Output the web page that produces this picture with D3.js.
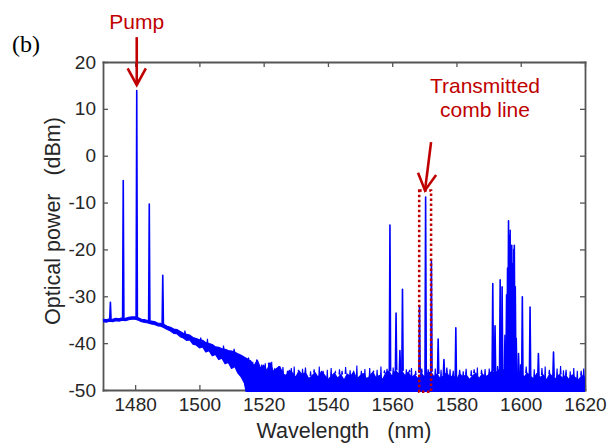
<!DOCTYPE html>
<html>
<head>
<meta charset="utf-8">
<script src="https://cdn.jsdelivr.net/npm/d3@7"></script>
<style>
  body { margin: 0; background: #fff; }
  svg { font-family: Arial, 'Liberation Sans', sans-serif; }
</style>
</head>
<body>
<svg id="chart" width="609" height="444"></svg>
<script>
// DATA
const xTicks = [1480, 1500, 1520, 1540, 1560, 1580, 1600, 1620];
const yTicks = [-50, -40, -30, -20, -10, 0, 10, 20];

// noise floor on a 1 nm grid, 1470..1620 nm
const floorWl = d3.range(1470, 1621);
const floorHi = [
  -34.9, -35.0, -34.8, -34.9, -34.7, -34.8, -34.6, -34.7, -34.5, -34.4,
  -34.4, -34.6, -34.9, -35.0, -35.2, -35.3, -35.4, -35.7, -35.8, -36.0,
  -36.4, -36.6, -37.0, -37.1, -37.5, -37.9, -38.1, -38.3, -38.8, -39.0,
  -39.3, -39.4, -39.9, -40.1, -40.3, -40.8, -40.9, -41.2, -41.3, -41.6,
  -41.7, -41.9, -42.3, -42.6, -43.0, -43.4, -43.8, -44.9, -43.6, -45.3,
  -44.7, -45.9, -44.2, -46.1, -45.4, -45.0, -46.6, -46.9, -45.8, -46.4,
  -47.3, -45.9, -46.8, -46.2, -47.6, -47.0, -46.3, -47.4, -46.0, -46.9,
  -47.8, -47.1, -46.4, -47.5, -46.7, -47.9, -46.6, -47.2, -46.1, -47.7,
  -47.0, -46.5, -47.6, -47.1, -46.2, -47.5, -46.9, -47.8, -46.4, -46.0,
  -47.2, -45.8, -46.6, -45.9, -47.0, -46.2, -47.4, -46.8, -47.6, -46.3,
  -47.3, -46.5, -46.1, -47.2, -46.6, -47.7, -46.9, -46.3, -47.5, -46.8,
  -47.9, -46.5, -47.3, -46.7, -47.8, -47.0, -46.4, -47.6, -46.6, -47.2,
  -46.8, -46.0, -46.5, -45.7, -46.3, -45.4, -45.0, -45.3, -45.9, -46.6,
  -46.1, -47.3, -46.4, -47.0, -47.7, -46.5, -47.4, -46.8, -47.9, -46.6,
  -47.2, -47.6, -46.7, -47.5, -46.9, -47.8, -46.8, -47.4, -47.9, -46.9,
  -47.3
];
// lower edge of the noise band; past 1514 nm it runs off the bottom of the axis
const floorLo = [
  -35.4, -35.5, -35.3, -35.4, -35.2, -35.3, -35.1, -35.2, -35.0, -34.9,
  -34.9, -35.1, -35.4, -35.6, -35.7, -35.9, -36.0, -36.3, -36.4, -36.7,
  -37.1, -37.4, -37.9, -38.0, -38.6, -38.9, -39.4, -39.3, -40.2, -40.4,
  -41.0, -40.8, -41.9, -41.6, -42.7, -42.4, -43.5, -43.2, -44.4, -44.1,
  -45.4, -45.0, -46.4, -47.2, -48.5
];

// comb lines
const peakWl = [
  1472.3, 1476.3, 1480.5, 1484.4, 1488.6,
  1559.3, 1561.2, 1562.4, 1563.2, 1568.5, 1570.4, 1572.2, 1574.3, 1576.1, 1579.8,
  1591.3, 1592.0, 1593.6, 1594.2, 1595.1, 1595.6, 1595.9, 1596.2, 1596.45, 1596.7,
  1596.95, 1597.2, 1597.5, 1597.8, 1598.0, 1598.3, 1598.6, 1599.3, 1600.5, 1602.9,
  1605.5, 1610.2
];
const peakDbm = [
  -31.3, -5.3, 13.9, -10.3, -25.5,
  -14.8, -33.6, -41.6, -28.5, -32.0, -8.8, -22.6, -39.1, -43.5, -36.7,
  -27.3, -36.3, -26.5, -28.0, -38.3, -29.7, -24.0, -13.9, -17.0, -15.9,
  -21.0, -19.1, -23.0, -20.0, -19.1, -28.0, -39.0, -42.2, -30.1, -32.3,
  -42.2, -41.9
];

// small noise spikes sticking out of the floor
const spikeWl = [
  1495.5, 1500.4, 1502.5, 1507.5, 1510.8,
  1515.3, 1516.6, 1517.8, 1519.4, 1520.5, 1521.6, 1522.5, 1523.4, 1524.7, 1526.0,
  1527.4, 1528.6, 1529.5, 1530.8, 1532.1, 1533.0, 1534.6, 1535.7, 1537.3, 1538.5,
  1539.8, 1541.0, 1542.3, 1543.6, 1544.4, 1545.5, 1546.9, 1548.0, 1549.0, 1550.4,
  1551.5, 1553.0, 1554.2, 1555.3, 1556.5, 1557.6, 1558.4, 1560.3, 1564.4, 1565.4,
  1566.0, 1567.3, 1569.2, 1571.2, 1573.4, 1575.2, 1577.0, 1578.0, 1579.0, 1581.0,
  1582.1, 1583.0, 1584.6, 1585.5, 1586.5, 1587.8, 1588.9, 1590.2, 1592.8, 1599.9,
  1601.7, 1604.2, 1606.6, 1607.6, 1608.9, 1611.3, 1612.4, 1613.3, 1614.1, 1615.4,
  1616.5, 1617.6, 1618.8, 1619.6
];
const spikeDbm = [
  -37.3, -38.8, -39.1, -40.5, -41.2,
  -43.2, -44.0, -43.7, -44.6, -44.3, -45.0, -44.0, -45.4, -45.6, -45.1,
  -45.9, -45.3, -45.0, -45.8, -45.5, -45.2, -46.0, -45.6, -45.0, -45.9,
  -45.7, -45.3, -46.1, -45.6, -45.9, -45.1, -45.8, -46.0, -44.8, -45.9,
  -45.5, -45.3, -46.0, -45.7, -45.0, -45.8, -45.5, -45.2, -45.6, -45.7,
  -45.3, -45.9, -45.4, -45.6, -45.4, -45.7, -45.2, -45.6, -45.9, -45.7,
  -46.0, -45.5, -45.8, -45.6, -45.2, -45.7, -45.5, -45.4, -44.9, -44.5,
  -45.0, -45.6, -45.3, -45.0, -45.7, -45.4, -44.9, -45.8, -45.7, -46.0,
  -45.3, -45.9, -45.9, -45.4
];

// annotations, in data units
const pumpArrow = { wl: [1480.5, 1480.5], dbm: [25.3, 15.1] };
const combArrow = { wl: [1572.1, 1570.2], dbm: [2.9, -7.4] };
const combBox = { wl: [1568.4, 1572.1], dbm: [-7.4, -50.4] };

//SETUP
const svg = d3.select('#chart');
const width = +svg.attr('width');
const height = +svg.attr('height');

const padding = { top: 62, right: 24, bottom: 54, left: 103 };
const blue = '#0000ff';
const red = '#c00000';
const axisColor = '#555';
const textColor = '#262626';

//SCALE AND AXIS
const xScale = d3.scaleLinear()
  .domain([1470, 1620])
  .range([padding.left, width - padding.right]);

const yScale = d3.scaleLinear()
  .domain([-50, 20])
  .range([height - padding.bottom, padding.top]);

function styleAxis(g) {
  g.attr('font-family', 'Arial, Liberation Sans, sans-serif').attr('font-size', 19);
  g.select('.domain').attr('stroke', axisColor).attr('stroke-width', 1.8).attr('stroke-linecap', 'square');
  g.selectAll('.tick line').attr('stroke', axisColor).attr('stroke-width', 1.3);
  g.selectAll('.tick text').attr('fill', textColor);
}

const fmt = (d) => String(d);

svg.append('g')
  .attr('transform', `translate(0,${yScale(-50)})`)
  .call(d3.axisBottom(xScale).tickValues(xTicks).tickFormat(fmt)
    .tickSizeInner(-5).tickSizeOuter(0).tickPadding(8))
  .call(styleAxis);

svg.append('g')
  .attr('transform', `translate(0,${yScale(20)})`)
  .call(d3.axisTop(xScale).tickValues(xTicks).tickFormat('')
    .tickSizeInner(-5).tickSizeOuter(0))
  .call(styleAxis);

svg.append('g')
  .attr('transform', `translate(${xScale(1470)},0)`)
  .call(d3.axisLeft(yScale).tickValues(yTicks).tickFormat(fmt)
    .tickSizeInner(-5).tickSizeOuter(0).tickPadding(7))
  .call(styleAxis);

svg.append('g')
  .attr('transform', `translate(${xScale(1620)},0)`)
  .call(d3.axisRight(yScale).tickValues(yTicks).tickFormat('')
    .tickSizeInner(-5).tickSizeOuter(0))
  .call(styleAxis);

//SPECTRUM
svg.append('clipPath').attr('id', 'plot-clip')
  .append('rect')
  .attr('x', xScale(1470))
  .attr('y', yScale(20))
  .attr('width', xScale(1620) - xScale(1470))
  .attr('height', yScale(-50) - yScale(20) + 2);

const plot = svg.append('g').attr('clip-path', 'url(#plot-clip)');

const floorData = floorWl.map((wl, i) => ({
  wl,
  hi: floorHi[i],
  lo: i < floorLo.length ? floorLo[i] : -52,
}));

const band = d3.area()
  .x((d) => xScale(d.wl))
  .y0((d) => yScale(d.lo))
  .y1((d) => yScale(d.hi));

plot.append('path')
  .datum(floorData)
  .attr('d', band)
  .attr('fill', blue)
  .attr('stroke', blue)
  .attr('stroke-width', 1.2)
  .attr('stroke-linejoin', 'round');

function floorAt(wl) {
  return floorHi[Math.round(wl - floorWl[0])];
}

const spikeLine = d3.line()
  .x((d) => xScale(d.wl))
  .y((d) => yScale(d.dbm));

function spikePath(wl, dbm, half) {
  const base = floorAt(wl);
  return spikeLine([
    { wl: wl - half, dbm: base },
    { wl, dbm },
    { wl: wl + half, dbm: base },
  ]);
}

plot.selectAll('.spike')
  .data(spikeWl.map((wl, i) => ({ wl, dbm: spikeDbm[i] })))
  .enter()
  .append('path')
  .classed('spike', true)
  .attr('d', (d) => spikePath(d.wl, d.dbm, 0.15))
  .attr('fill', blue)
  .attr('stroke', blue)
  .attr('stroke-width', 1.1);

plot.selectAll('.peak')
  .data(peakWl.map((wl, i) => ({ wl, dbm: peakDbm[i] })))
  .enter()
  .append('path')
  .classed('peak', true)
  .attr('d', (d) => spikePath(d.wl, d.dbm, 0.2))
  .attr('fill', blue)
  .attr('stroke', blue)
  .attr('stroke-width', 1.6)
  .attr('stroke-linejoin', 'round');

//ANNOTATIONS
function arrow(a) {
  const x1 = xScale(a.wl[0]), y1 = yScale(a.dbm[0]);
  const x2 = xScale(a.wl[1]), y2 = yScale(a.dbm[1]);
  const ang = Math.atan2(y2 - y1, x2 - x1);
  const len = 19, spread = 0.5;
  const g = svg.append('g')
    .attr('stroke', red)
    .attr('stroke-width', 2.6)
    .attr('fill', 'none');
  g.append('line').attr('x1', x1).attr('y1', y1).attr('x2', x2).attr('y2', y2);
  g.append('path')
    .attr('stroke-linejoin', 'miter')
    .attr('d', `M${x2 - len * Math.cos(ang - spread)},${y2 - len * Math.sin(ang - spread)}`
      + `L${x2},${y2}`
      + `L${x2 - len * Math.cos(ang + spread)},${y2 - len * Math.sin(ang + spread)}`);
}

arrow(pumpArrow);
arrow(combArrow);

svg.append('rect')
  .attr('x', xScale(combBox.wl[0]))
  .attr('y', yScale(combBox.dbm[0]))
  .attr('width', xScale(combBox.wl[1]) - xScale(combBox.wl[0]))
  .attr('height', yScale(combBox.dbm[1]) - yScale(combBox.dbm[0]))
  .attr('fill', 'none')
  .attr('stroke', red)
  .attr('stroke-width', 2.5)
  .attr('stroke-dasharray', '2.5,2.5');

svg.append('text')
  .attr('x', xScale(pumpArrow.wl[0]))
  .attr('y', 29)
  .attr('text-anchor', 'middle')
  .attr('fill', red)
  .style('font-size', '21px')
  .text('Pump');

const combLabel = svg.append('text')
  .attr('text-anchor', 'middle')
  .attr('fill', red)
  .style('font-size', '21px');
combLabel.append('tspan').attr('x', 485).attr('y', 93).text('Transmitted');
combLabel.append('tspan').attr('x', 485).attr('y', 117).text('comb line');

//TEXT
svg.append('text')
  .attr('x', 12)
  .attr('y', 52)
  .style('font-family', "'Liberation Serif', 'Times New Roman', serif")
  .style('font-size', '24px')
  .attr('fill', '#000')
  .text('(b)');

svg.append('text')
  .attr('x', (xScale(1470) + xScale(1620)) / 2)
  .attr('y', 438)
  .attr('text-anchor', 'middle')
  .attr('fill', textColor)
  .style('font-size', '21.5px')
  .style('white-space', 'pre')
  .text('Wavelength   (nm)');

svg.append('text')
  .attr('transform', 'translate(60,221) rotate(-90)')
  .attr('text-anchor', 'middle')
  .attr('fill', textColor)
  .style('font-size', '21.5px')
  .style('white-space', 'pre')
  .text('Optical power   (dBm)');
</script>
</body>
</html>
